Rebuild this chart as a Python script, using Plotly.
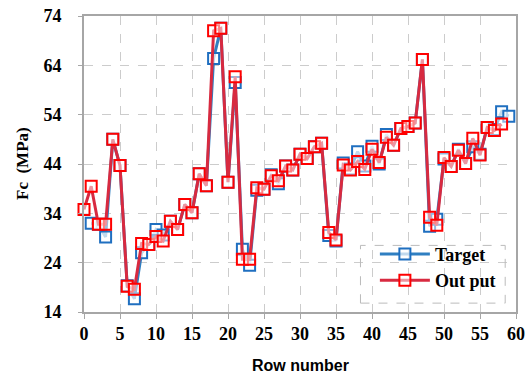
import plotly.graph_objects as go

target_x = list(range(1, 60))
target_y = [32.0, 31.8, 29.2, 49.0, 43.7, 19.3, 16.7, 26.0, 27.7, 30.7,
            29.6, 32.4, 30.7, 35.8, 34.1, 42.0, 39.6, 65.4, 71.5, 40.3,
            60.5, 26.7, 23.5, 38.7, 38.9, 41.8, 40.0, 43.6, 42.8, 46.0,
            45.1, 47.5, 48.2, 29.5, 28.4, 44.2, 43.0, 46.5, 43.6, 47.6,
            44.0, 50.0, 47.8, 51.2, 51.6, 52.3, 65.2, 31.4, 32.8, 45.0,
            43.5, 47.0, 44.1, 47.5, 46.0, 51.4, 51.0, 54.6, 53.7]

output_x = list(range(0, 59))
output_y = [34.8, 39.5, 31.8, 31.8, 49.0, 43.7, 19.2, 18.6, 27.9, 27.7,
            29.3, 28.4, 32.4, 30.7, 35.8, 34.1, 42.0, 39.6, 71.0, 71.5,
            40.3, 61.7, 24.7, 24.7, 39.2, 38.9, 41.6, 40.6, 43.6, 42.8,
            46.0, 45.1, 47.5, 48.2, 30.1, 28.6, 43.8, 42.8, 44.5, 42.9,
            47.0, 44.3, 49.4, 47.8, 51.2, 51.6, 52.3, 65.2, 33.2, 31.6,
            45.3, 43.5, 46.8, 44.1, 49.2, 45.8, 51.4, 50.8, 52.1]

x_ticks = list(range(0, 61, 5))
y_ticks = list(range(14, 75, 10))

serif = "Liberation Serif, Times New Roman, serif"
sans = "Liberation Sans, Arial, sans-serif"

fig = go.Figure()
fig.add_trace(go.Scatter(
    x=target_x, y=target_y, name="Target", mode="lines+markers",
    line=dict(color="#2f7fc1", width=3),
    marker=dict(symbol="square", size=11, color="rgba(255,255,255,0.7)",
                line=dict(color="#1f6fc0", width=2)),
    cliponaxis=False))
fig.add_trace(go.Scatter(
    x=output_x, y=output_y, name="Out put", mode="lines+markers",
    line=dict(color="#d82a40", width=3),
    marker=dict(symbol="square", size=11, color="rgba(255,255,255,0.5)",
                line=dict(color="#ff0000", width=2)),
    cliponaxis=False))

fig.update_layout(
    width=527, height=378,
    margin=dict(l=84, r=11, t=16, b=66),
    plot_bgcolor="white", paper_bgcolor="white",
    showlegend=True,
    legend=dict(x=0.965, y=0.045, xanchor="right", yanchor="bottom",
                bgcolor="rgba(0,0,0,0)", borderwidth=0, itemwidth=50,
                tracegroupgap=4,
                font=dict(family=serif, size=18, color="black", weight="bold")),
    xaxis=dict(range=[0, 60], tickvals=x_ticks, ticktext=[str(v) for v in x_ticks],
               automargin=False,
               showgrid=True, gridcolor="#cccccc", griddash="dash", gridwidth=1,
               showline=True, linecolor="#a6a6a6", linewidth=1.5, mirror=True,
               ticks="outside", ticklen=5, tickcolor="#a6a6a6",
               tickfont=dict(family=serif, size=18, color="black", weight="bold"),
               zeroline=False),
    yaxis=dict(range=[14, 74], tickvals=y_ticks, ticktext=[str(v) for v in y_ticks],
               automargin=False,
               showgrid=True, gridcolor="#cccccc", griddash="dash", gridwidth=1,
               showline=True, linecolor="#a6a6a6", linewidth=2, mirror=True,
               ticks="outside", ticklen=4, tickcolor="#a6a6a6",
               ticklabelstandoff=13,
               tickfont=dict(family=serif, size=18, color="black", weight="bold"),
               zeroline=False),
    shapes=[dict(type="rect", xref="paper", yref="paper",
                 x0=0.64, x1=0.975, y0=0.03, y1=0.225,
                 line=dict(color="#bbbbbb", width=1, dash="dash"),
                 fillcolor="rgba(255,255,255,0)")],
    annotations=[
        dict(text="Fc  (MPa)", xref="paper", yref="paper", x=-0.1435, y=0.5,
             textangle=-90, showarrow=False, xanchor="center", yanchor="middle",
             font=dict(family=serif, size=17, color="black", weight="bold")),
        dict(text="Row number", xref="paper", yref="paper", x=0.5, y=-0.182,
             showarrow=False, xanchor="center", yanchor="middle",
             font=dict(family=sans, size=16, color="black", weight="bold")),
    ],
)

fig.write_html("out.html")
